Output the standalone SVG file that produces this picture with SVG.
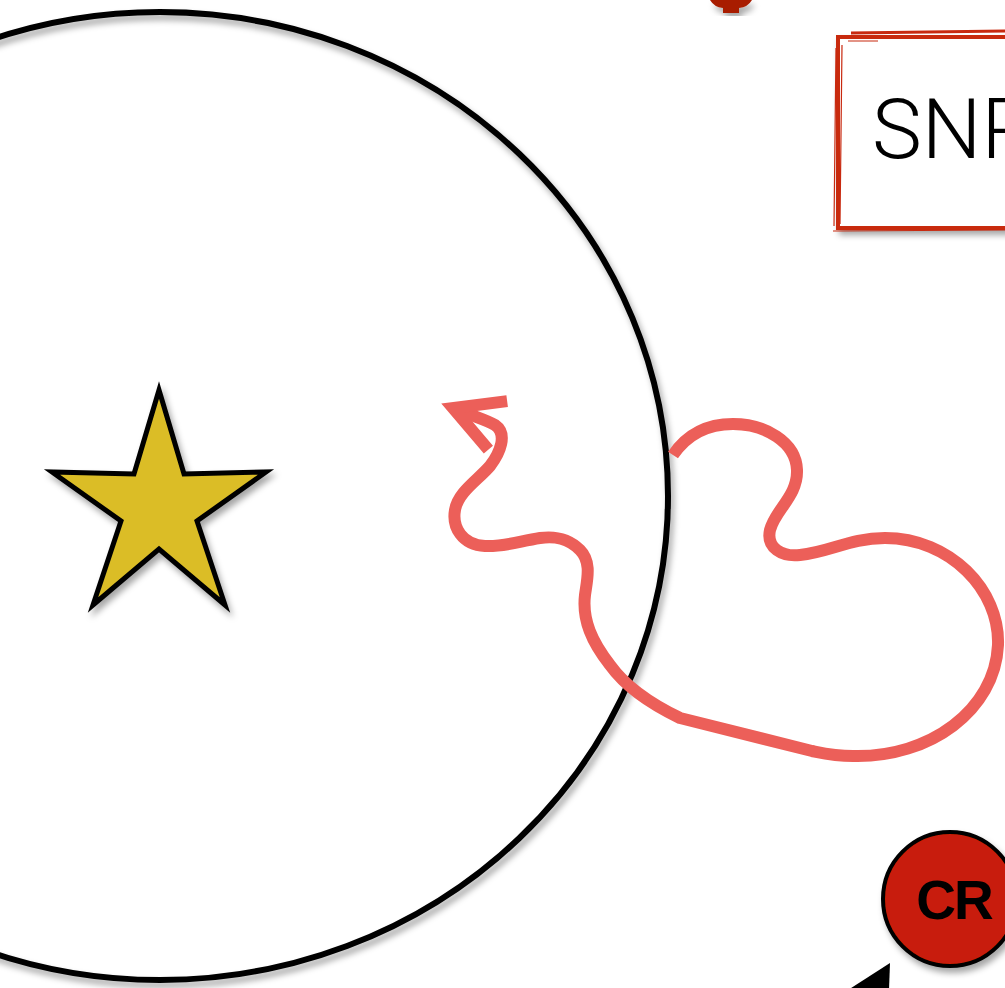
<svg xmlns="http://www.w3.org/2000/svg" width="1005" height="988" viewBox="0 0 1005 988">
<style>
.shadowed{filter:url(#ds);}
.outline{stroke:#000;stroke-width:6;}
.wave{fill:none;stroke:#ec5f59;stroke-width:12;stroke-linecap:butt;stroke-linejoin:round;}
.sketch{fill:none;stroke:#c8290f;}
</style>
<defs>
<filter id="ds" x="-20%" y="-20%" width="140%" height="140%">
<feDropShadow dx="3" dy="5" stdDeviation="3" flood-color="#000" flood-opacity="0.35"/>
</filter>
<marker id="arr" markerUnits="userSpaceOnUse" viewBox="-70 -45 90 90" markerWidth="90" markerHeight="90" refX="0" refY="0" orient="auto" overflow="visible">
<path d="M-48,-26 L0,0 L-48,26" fill="none" stroke="#ec5f59" stroke-width="12" stroke-linejoin="miter"/>
</marker>
</defs>
<rect width="1005" height="988" fill="#fff"/>

<g id="top-shape" class="shadowed">
<path d="M710,0 Q714,7 723,8 L723,13 L739,13 L739,8 Q748,7 752,0 Z" fill="#a81c06"/>
</g>

<g id="region">
<ellipse cx="160" cy="496" rx="508" ry="484" fill="none" class="outline shadowed"/>
</g>

<g id="star">
<polygon class="shadowed" points="159,390 184,474 266,472 197,521 225,605 159,549 93,605 121,521 52,472 134,474" fill="#dbbd27" stroke="#000" stroke-width="5" stroke-linejoin="miter"/>
</g>

<g id="snr-box">
<g class="shadowed">
<rect x="838" y="37" width="200" height="191" fill="#fff" stroke="#c8290f" stroke-width="4"/>
</g>
<path class="sketch" stroke-width="3" d="M851,33 L1005,31"/>
<path class="sketch" stroke-width="1.2" d="M848,41 L878,41 M836,48 L834,226 M833,231 L1005,230 M842,45 L840,224"/>
<text x="872" y="158" font-family="Roboto, 'Liberation Sans', sans-serif" font-weight="300" font-size="84" fill="#000">SNR</text>
</g>

<g id="connectors">
<path class="wave" marker-end="url(#arr)" d="M673,455 C690,430 712,424 733,424 C765,424 796,442 797,470 C798,496 775,510 770,530 C766,548 782,557 800,555 C830,552 850,538 885,538 C950,538 1000,590 998,645 C995,710 930,758 853,756 C835,756 822,753 812,751 L680,718 C655,706 628,690 610,665 C592,642 582,620 585,595 C587,580 592,562 580,550 C568,538 555,536 540,538 C520,541 505,547 485,546 C462,545 452,527 455,510 C458,492 478,480 490,466 C500,453 508,434 495,425 C489,421 484,420 453,408"/>
<polygon points="890,963 848,990 889,990" fill="#000"/>
</g>

<g id="cr">
<circle cx="950" cy="899" r="67" fill="#c81f07" stroke="#000" stroke-width="4" class="shadowed"/>
<text x="954" y="919" text-anchor="middle" font-family="'Liberation Sans', Arial, sans-serif" font-weight="bold" font-size="55" letter-spacing="-2" fill="#000">CR</text>
</g>
</svg>
